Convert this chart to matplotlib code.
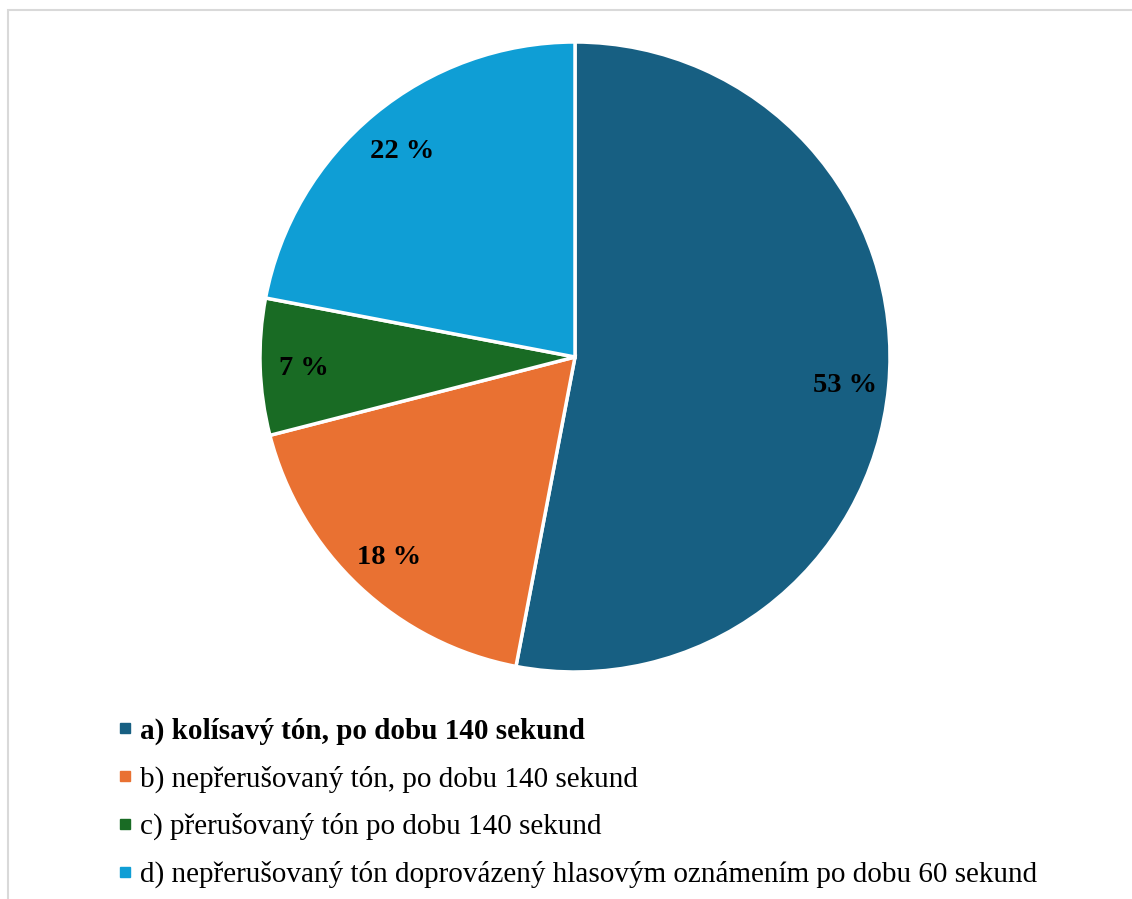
import matplotlib.pyplot as plt
from matplotlib.lines import Line2D
from matplotlib.patches import Rectangle

plt.rcParams['font.family'] = ['Liberation Serif', 'DejaVu Serif']

# hodnoty grafu (v procentech)
labels = [
    "a) kolísavý tón, po dobu 140 sekund",
    "b) nepřerušovaný tón, po dobu 140 sekund",
    "c) přerušovaný tón po dobu 140 sekund",
    "d) nepřerušovaný tón doprovázený hlasovým oznámením po dobu 60 sekund",
]
values = [53, 18, 7, 22]
colors = ["#175F82", "#E97132", "#196B24", "#0F9ED5"]

W, H = 1132, 899
fig = plt.figure(figsize=(W / 100, H / 100), dpi=100)

# rámeček kolem grafu (jen levá a horní hrana je vidět)
fig.patches.append(Rectangle((8 / W, -0.1), 1.2, (H - 10) / H + 0.1,
                             transform=fig.transFigure, fill=False,
                             edgecolor="#D9D9D9", linewidth=1.5))

cx, cy, r = 575, 357, 315
ax = fig.add_axes([(cx - r) / W, (H - cy - r) / H, 2 * r / W, 2 * r / H])
wedges, texts = ax.pie(
    values,
    colors=colors,
    startangle=90,
    counterclock=False,
    labels=[f"{v} %" for v in values],
    labeldistance=0.86,
    wedgeprops=dict(edgecolor="white", linewidth=2.5),
    textprops=dict(fontsize=20.5, fontweight="bold", color="black",
                   ha="center", va="center_baseline"),
)
ax.set_xlim(-1, 1)
ax.set_ylim(-1, 1)
ax.set_aspect("equal")
ax.axis("off")

handles = [Line2D([], [], marker="s", linestyle="none", markersize=7,
                  markerfacecolor=c, markeredgecolor=c) for c in colors]
leg = fig.legend(handles, labels, loc="upper left",
                 bbox_to_anchor=(105 / W, 1 - 703 / H),
                 frameon=False, fontsize=21, handlelength=0.4,
                 handletextpad=0.3, labelspacing=0.7, borderpad=0)
leg.get_texts()[0].set_fontweight("bold")

fig.savefig("out.png", dpi=100)
